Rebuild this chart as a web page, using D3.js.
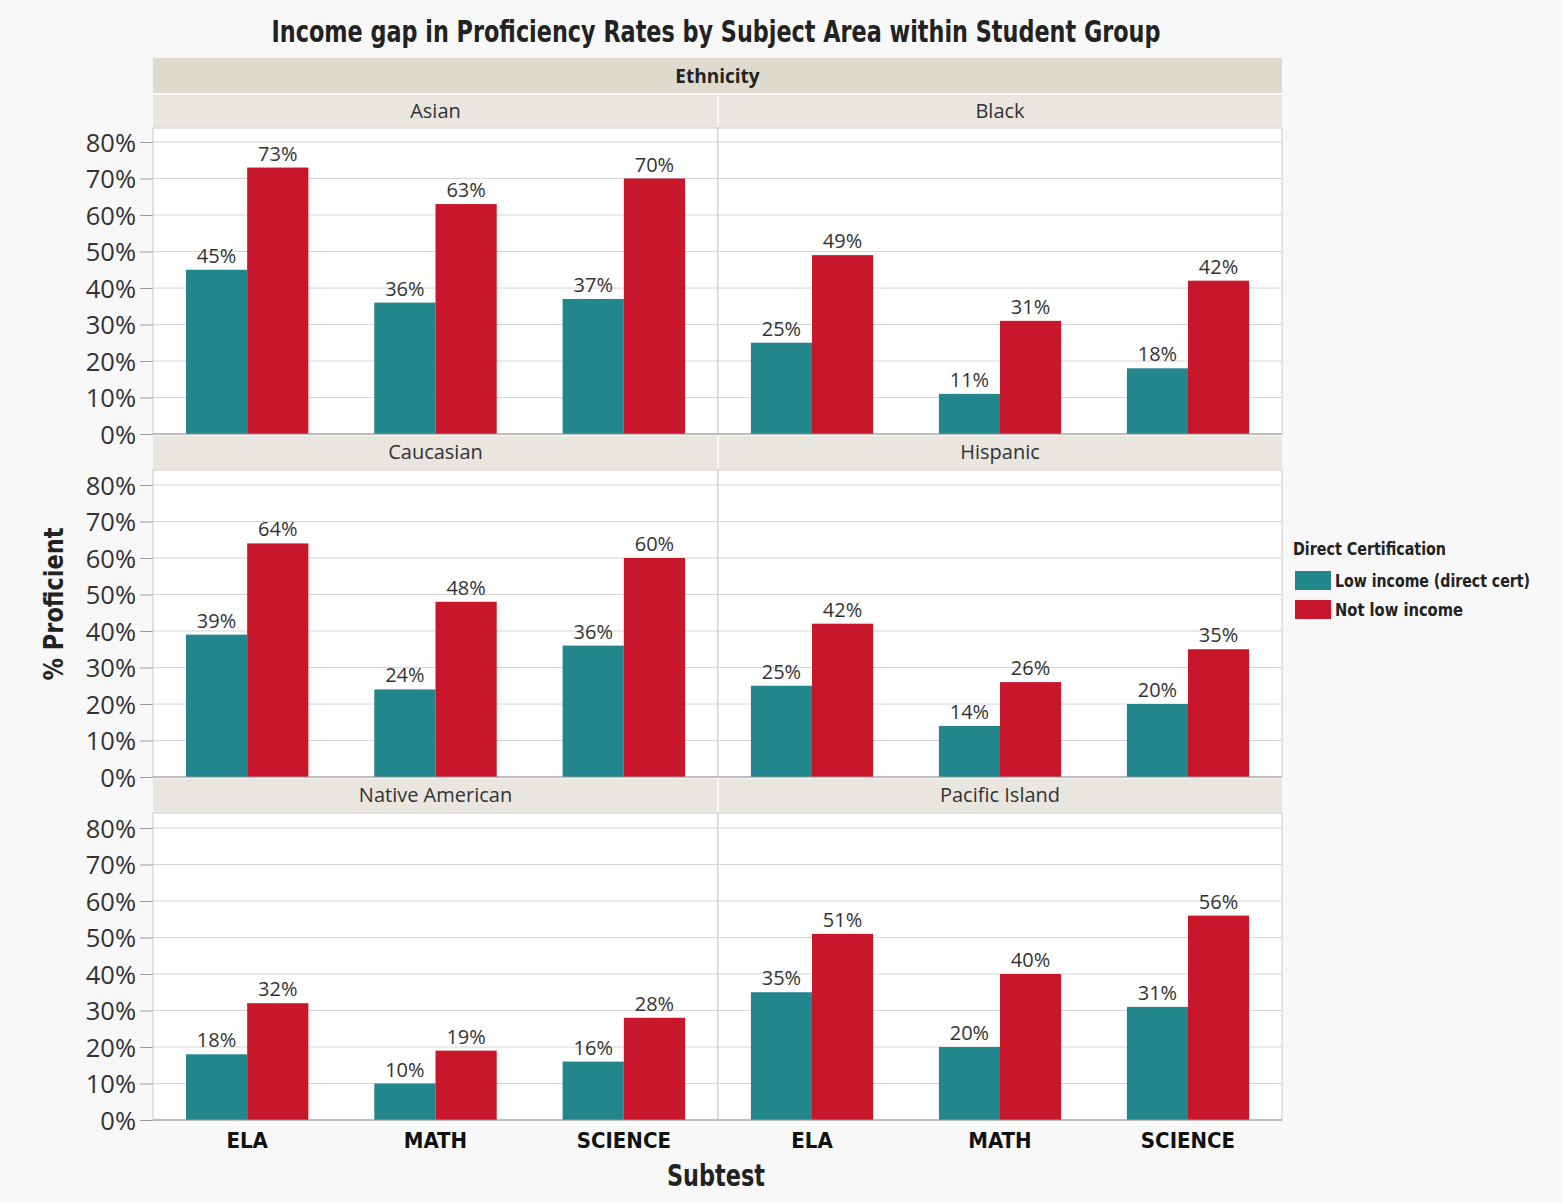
<!DOCTYPE html>
<html>
<head>
<meta charset="utf-8">
<script src="https://cdn.jsdelivr.net/npm/d3@7"></script>
<style>
  body { margin: 0; background: #f8f8f8; }
  svg { display: block; }
</style>
</head>
<body>
<div id="showBox"></div>
<script>
// data
const groups = ["Asian", "Black", "Caucasian", "Hispanic", "Native American", "Pacific Island"]
const subtests = ["ELA", "MATH", "SCIENCE"]
const series = ["Low income (direct cert)", "Not low income"]
const lowIncome = [
    [45, 36, 37],
    [25, 11, 18],
    [39, 24, 36],
    [25, 14, 20],
    [18, 10, 16],
    [35, 20, 31]
]
const notLowIncome = [
    [73, 63, 70],
    [49, 31, 42],
    [64, 48, 60],
    [42, 26, 35],
    [32, 19, 28],
    [51, 40, 56]
]
const yTicks = [0, 10, 20, 30, 40, 50, 60, 70, 80]

const W = 1562, H = 1203
const colors = ["#23868c", "#c8162b"]
const narrow = "'Liberation Sans Narrow', 'DejaVu Sans Condensed', 'Arial Narrow', sans-serif"
const body = "'Open Sans', 'Noto Sans', sans-serif"

const svg = d3.select("#showBox").append("svg")
    .attr("width", W).attr("height", H)

const left = 153, right = 1282, mid = 718
// row layout: header band top, plot top, zero line
const rows = [
    {head: 95, top: 128, y0: 434},
    {head: 436, top: 470, y0: 777},
    {head: 779, top: 813, y0: 1120}
]
const cols = [[left, mid], [mid, right]]

// title
svg.append("text")
    .attr("x", 716).attr("y", 42)
    .attr("text-anchor", "middle")
    .attr("font-family", narrow).attr("font-weight", "bold")
    .attr("font-size", 30).attr("fill", "#222")
    .attr("textLength", 889).attr("lengthAdjust", "spacingAndGlyphs")
    .text("Income gap in Proficiency Rates by Subject Area within Student Group")

// Ethnicity band
svg.append("rect").attr("x", left).attr("y", 58).attr("width", right - left).attr("height", 35)
    .attr("fill", "#dedbce")
svg.append("text").attr("x", (left + right) / 2).attr("y", 83)
    .attr("text-anchor", "middle").attr("font-family", body).attr("font-weight", "bold")
    .attr("font-size", 19).attr("fill", "#222").text("Ethnicity")

rows.forEach((r, ri) => {
    const y = d3.scaleLinear().domain([0, 80]).range([r.y0, r.y0 - 292])

    // y axis
    const ax = svg.append("g")
        .attr("transform", `translate(${left},0)`)
        .call(d3.axisLeft(y).tickValues(yTicks).tickFormat(d => d + "%").tickSize(13).tickPadding(4))
    ax.select(".domain").remove()
    ax.selectAll(".tick line").attr("stroke", "#999")
    ax.selectAll(".tick text").attr("font-family", body).attr("font-size", 25.5).attr("fill", "#333")
        .attr("dy", "0.36em")

    cols.forEach((c, ci) => {
        const gi = ri * 2 + ci
        const [x0, x1] = c

        // header band
        svg.append("rect").attr("x", x0 + (ci ? 1 : 0)).attr("y", r.head)
            .attr("width", x1 - x0 - 1).attr("height", r.top - r.head - 1)
            .attr("fill", "#e8e6df")
        svg.append("text").attr("x", (x0 + x1) / 2).attr("y", r.head + 23)
            .attr("text-anchor", "middle").attr("font-family", body)
            .attr("font-size", 20).attr("fill", "#333").text(groups[gi])

        // plot area
        svg.append("rect").attr("x", x0).attr("y", r.top)
            .attr("width", x1 - x0).attr("height", r.y0 - r.top)
            .attr("fill", "#fff").attr("stroke", "#c8c8c8")

        // grid
        svg.append("g").selectAll("line").data(yTicks.slice(1)).join("line")
            .attr("x1", x0).attr("x2", x1)
            .attr("y1", d => y(d)).attr("y2", d => y(d))
            .attr("stroke", "#d6d6d6")

        const x = d3.scaleBand().domain(subtests).range([x0, x1]).paddingInner(0.35).paddingOuter(0.175)
        const xs = d3.scaleBand().domain([0, 1]).range([0, x.bandwidth()])

        const vals = subtests.map((s, si) => [lowIncome[gi][si], notLowIncome[gi][si]])
        const g = svg.append("g")
        subtests.forEach((s, si) => {
            const gg = g.append("g").attr("transform", `translate(${x(s)},0)`)
            gg.selectAll("rect").data(vals[si]).join("rect")
                .attr("x", (d, i) => xs(i)).attr("width", xs.bandwidth())
                .attr("y", d => y(d)).attr("height", d => r.y0 - y(d))
                .attr("fill", (d, i) => colors[i])
            gg.selectAll("text").data(vals[si]).join("text")
                .attr("x", (d, i) => xs(i) + xs.bandwidth() / 2)
                .attr("y", d => y(d) - 7)
                .attr("text-anchor", "middle").attr("font-family", body)
                .attr("font-size", 20).attr("fill", "#333")
                .text(d => d + "%")
        })

        // zero line
        svg.append("line").attr("x1", x0).attr("x2", x1).attr("y1", r.y0).attr("y2", r.y0)
            .attr("stroke", "#999")

        // x axis labels on last row
        if (ri === rows.length - 1) {
            svg.append("g").selectAll("text").data(subtests).join("text")
                .attr("x", d => x(d) + x.bandwidth() / 2).attr("y", r.y0 + 28)
                .attr("text-anchor", "middle").attr("font-family", narrow)
                .attr("font-weight", "bold").attr("font-size", 22).attr("fill", "#111")
                .text(d => d)
        }
    })
})

// y axis title
svg.append("text")
    .attr("transform", "translate(63,604) rotate(-90)")
    .attr("text-anchor", "middle").attr("font-family", narrow)
    .attr("font-weight", "bold").attr("font-size", 27).attr("fill", "#222")
    .attr("textLength", 153).attr("lengthAdjust", "spacingAndGlyphs")
    .text("% Proficient")

// x axis title
svg.append("text").attr("x", 716).attr("y", 1186)
    .attr("text-anchor", "middle").attr("font-family", narrow)
    .attr("font-weight", "bold").attr("font-size", 30).attr("fill", "#222")
    .attr("textLength", 98).attr("lengthAdjust", "spacingAndGlyphs")
    .text("Subtest")

// legend
const legendW = [195, 128]
const lg = svg.append("g").attr("transform", "translate(1293,0)")
lg.append("text").attr("x", 0).attr("y", 555)
    .attr("font-family", narrow).attr("font-weight", "bold").attr("font-size", 18).attr("fill", "#222")
    .attr("textLength", 153).attr("lengthAdjust", "spacingAndGlyphs")
    .text("Direct Certification")
lg.selectAll("rect").data(series).join("rect")
    .attr("x", 2).attr("y", (d, i) => 571 + i * 29).attr("width", 36).attr("height", 19)
    .attr("fill", (d, i) => colors[i])
lg.selectAll("text.item").data(series).join("text").attr("class", "item")
    .attr("x", 42).attr("y", (d, i) => 587 + i * 29)
    .attr("font-family", narrow).attr("font-weight", "bold").attr("font-size", 17).attr("fill", "#222")
    .attr("textLength", (d, i) => legendW[i]).attr("lengthAdjust", "spacingAndGlyphs")
    .text(d => d)
</script>
</body>
</html>
